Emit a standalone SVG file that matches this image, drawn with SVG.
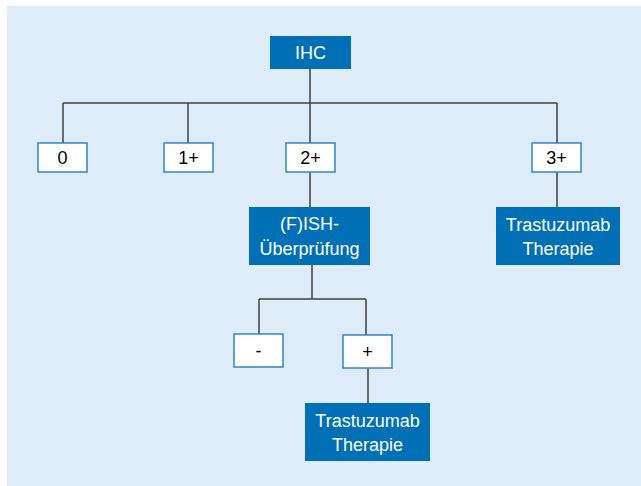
<svg xmlns="http://www.w3.org/2000/svg" width="641" height="486" viewBox="0 0 641 486">
<style>
.bg{fill:#DEEBF8}
.dark{fill:#0070B6}
.light{fill:#FFFFFF;stroke:#2E86C9;stroke-width:1.5}
.wt{fill:#FFFFFF;font-family:"Liberation Sans",Arial,sans-serif;font-size:18px;text-anchor:middle}
.bt{fill:#000000;font-family:"Liberation Sans",Arial,sans-serif;font-size:18px;text-anchor:middle}
.ln{fill:none;stroke:#404040;stroke-width:1.5}
</style>
<rect class="bg" x="7" y="6" width="634" height="480"/>
<g id="connectors">
<path class="ln" d="M310,69 V103 M63,103 H557 M63,103 V143 M188,103 V143 M310,103 V143 M557,103 V143"/>
<path class="ln" d="M310,172 V207 M557,172 V207"/>
<path class="ln" d="M312,265 V299 M259,299 H366 M259,299 V334 M366,299 V335"/>
<path class="ln" d="M368,368 V403"/>
</g>
<g id="ihc">
<rect class="dark" x="270" y="36" width="81" height="33"/>
<text class="wt" x="310.5" y="59">IHC</text>
</g>
<g id="n0">
<rect class="light" x="38" y="143" width="49" height="29"/>
<text class="bt" x="62.5" y="164">0</text>
</g>
<g id="n1">
<rect class="light" x="164" y="143" width="49" height="29"/>
<text class="bt" x="188.5" y="164">1+</text>
</g>
<g id="n2">
<rect class="light" x="286" y="143" width="49" height="29"/>
<text class="bt" x="310.5" y="164">2+</text>
</g>
<g id="n3">
<rect class="light" x="532" y="143" width="49" height="29"/>
<text class="bt" x="556.5" y="164">3+</text>
</g>
<g id="fish">
<rect class="dark" x="249" y="207" width="121" height="58"/>
<text class="wt" x="309.5" y="230">(F)ISH-</text>
<text class="wt" x="309.5" y="255">Überprüfung</text>
</g>
<g id="therapie1">
<rect class="dark" x="496" y="207" width="124" height="58"/>
<text class="wt" x="558" y="231">Trastuzumab</text>
<text class="wt" x="558" y="255">Therapie</text>
</g>
<g id="neg">
<rect class="light" x="234" y="334" width="49" height="33"/>
<text class="bt" x="258.5" y="357">-</text>
</g>
<g id="pos">
<rect class="light" x="343" y="335" width="49" height="33"/>
<text class="bt" x="367.5" y="358">+</text>
</g>
<g id="therapie2">
<rect class="dark" x="305" y="403" width="125" height="58"/>
<text class="wt" x="367.5" y="427">Trastuzumab</text>
<text class="wt" x="367.5" y="451">Therapie</text>
</g>
</svg>
